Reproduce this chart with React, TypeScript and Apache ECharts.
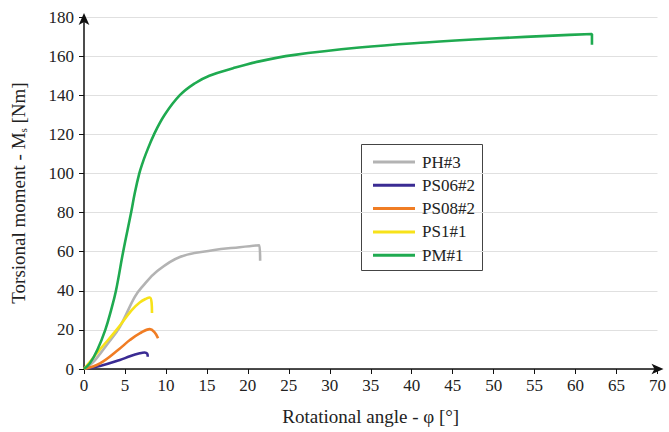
import React, { useEffect, useRef } from "react";
import * as echarts from "echarts";

const xTicks = [0, 5, 10, 15, 20, 25, 30, 35, 40, 45, 50, 55, 60, 65, 70];
const yTicks = [0, 20, 40, 60, 80, 100, 120, 140, 160, 180];

const seriesNames = ["PH#3", "PS06#2", "PS08#2", "PS1#1", "PM#1"];
const seriesColors = ["#b3b3b3", "#3a2b93", "#f07d24", "#f7e21a", "#1faa50"];

const ph3Angle = [0, 1, 2, 3, 4.38, 6.2, 7.2, 8.84, 11.7, 15.7, 19, 21.4, 21.5];
const ph3Moment = [0, 3, 8, 13.5, 21.6, 36.9, 42.5, 49.7, 57.3, 60.7, 62.3, 63.3, 55.3];

const ps062Angle = [0, 1.95, 4.38, 5.6, 6.8, 7.4, 7.7, 7.78];
const ps062Moment = [0, 1.5, 4.6, 6.5, 8.0, 8.4, 7.9, 6.3];

const ps082Angle = [0, 1.95, 4.38, 5.6, 6.8, 8.03, 8.6, 9.04];
const ps082Moment = [0, 2.9, 10.5, 14.8, 18.2, 20.4, 18.8, 15.7];

const ps11Angle = [0, 0.73, 1.95, 3.97, 5.8, 6.8, 7.6, 8.03, 8.25, 8.3];
const ps11Moment = [0, 3.7, 10, 20, 30, 34, 36, 36.6, 34, 28.7];

const pm1Angle = [0, 0.73, 1.65, 2.6, 3.3, 3.9, 4.78, 5.75, 6.2, 6.75, 7.12, 7.55, 8.55, 9.85, 11.7, 13.5, 15.3, 18.2, 21.4, 25.5, 33.6, 41.7, 49.8, 57.9, 62.0, 62.0];
const pm1Moment = [0, 3, 10, 20, 30, 40, 60, 80, 90, 100, 105, 110, 120, 130, 140, 146, 150, 153.8, 157.3, 160.5, 164.4, 167, 169, 170.6, 171.3, 165.8];

const seriesAngles = [ph3Angle, ps062Angle, ps082Angle, ps11Angle, pm1Angle];
const seriesMoments = [ph3Moment, ps062Moment, ps082Moment, ps11Moment, pm1Moment];

const FONT = "'Liberation Serif', 'DejaVu Serif', serif";

export default function App() {
  const ref = useRef<HTMLDivElement>(null);
  useEffect(() => {
    if (!ref.current) return;
    const chart = echarts.init(ref.current, undefined, { renderer: "svg" });
    chart.setOption({
      animation: false,
      textStyle: { fontFamily: FONT },
      grid: { left: 84, right: 10, top: 17, bottom: 63, containLabel: false },
      xAxis: {
        type: "value",
        min: xTicks[0],
        max: xTicks[xTicks.length - 1],
        interval: 5,
        name: "Rotational angle - φ [°]",
        nameLocation: "middle",
        nameGap: 38,
        nameTextStyle: { fontFamily: FONT, fontSize: 19, color: "#222" },
        axisLine: { show: true, symbol: ["none", "arrow"], symbolSize: [8, 12], symbolOffset: [0, 6], lineStyle: { color: "#111", width: 1.5 } },
        axisTick: { show: true, inside: false, length: 5, lineStyle: { color: "#111" } },
        axisLabel: { fontFamily: FONT, fontSize: 17, color: "#222", margin: 8 },
        splitLine: { show: false },
      },
      yAxis: {
        type: "value",
        min: yTicks[0],
        max: yTicks[yTicks.length - 1],
        interval: 20,
        name: "{n|Torsional moment - M}{s|s}{n| [Nm]}",
        nameLocation: "middle",
        nameGap: 56,
        nameRotate: 90,
        nameTextStyle: {
          fontFamily: FONT,
          fontSize: 19,
          color: "#222",
          rich: {
            n: { fontFamily: FONT, fontSize: 19, color: "#222" },
            s: { fontFamily: FONT, fontSize: 11, color: "#222", verticalAlign: "bottom", padding: [8, 0, 0, 0] },
          },
        },
        axisLine: { show: true, symbol: ["none", "arrow"], symbolSize: [8, 12], symbolOffset: [0, 4], lineStyle: { color: "#111", width: 1.5 } },
        axisTick: { show: true, inside: false, length: 5, lineStyle: { color: "#111" } },
        axisLabel: { fontFamily: FONT, fontSize: 17, color: "#222", margin: 10 },
        splitLine: { show: true, lineStyle: { color: "#e0e0e0", width: 1 } },
      },
      legend: {
        orient: "vertical",
        left: 373,
        top: 153,
        padding: 0,
        itemGap: 5.3,
        itemWidth: 42,
        itemHeight: 3,
        icon: "rect",
        textStyle: { fontFamily: FONT, fontSize: 17, color: "#222", lineHeight: 18, padding: [0, 0, 0, 2] },
        data: seriesNames,
      },
      graphic: [
        {
          type: "rect",
          left: 361,
          top: 144,
          shape: { x: 0, y: 0, width: 121, height: 126 },
          style: { fill: "#fff", stroke: "#444", lineWidth: 1 },
          z: 0,
          silent: true,
        },
      ],
      series: seriesNames.map((name, i) => ({
        name,
        type: "line",
        data: seriesAngles[i].map((a, j) => [a, seriesMoments[i][j]]),
        showSymbol: false,
        symbol: "none",
        smooth: 0.4,
        color: seriesColors[i],
        lineStyle: { color: seriesColors[i], width: 2.6 },
        z: 3,
      })),
    });
    return () => chart.dispose();
  }, []);
  return <div ref={ref} style={{ width: 669, height: 432, position: "absolute", left: 0, top: 0 }} />;
}
